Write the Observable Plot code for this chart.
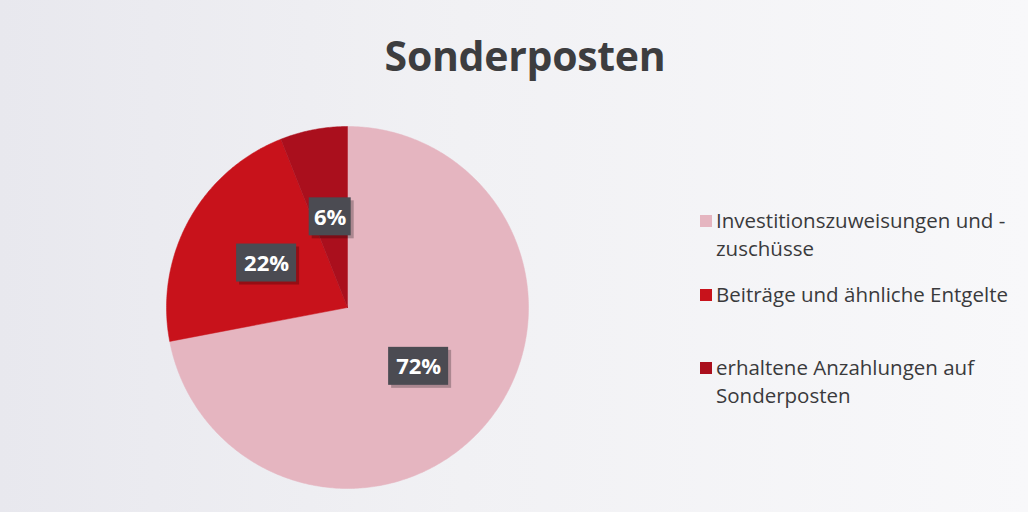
<!DOCTYPE html>
<html>
<head>
<meta charset="utf-8">
<script src="https://cdn.jsdelivr.net/npm/d3@7"></script>
<script src="https://cdn.jsdelivr.net/npm/@observablehq/plot@0.6"></script>
<style>
  html, body { margin: 0; padding: 0; }
  body {
    width: 1028px; height: 512px; overflow: hidden; position: relative;
    background: linear-gradient(90deg, #e8e8ee 0%, #f1f1f4 45%, #f8f8fa 100%);
    font-family: "Open Sans", sans-serif;
  }
  #title {
    position: absolute; left: 0; top: 0; width: 1050px; height: 110px;
    text-align: center; font-weight: 700; font-size: 41px; color: #3d3d3f;
    line-height: 110px; letter-spacing: -0.3px;
  }
  #chart { position: absolute; left: 0; top: 110px; }
  #legend { position: absolute; left: 700px; top: 206px; color: #3a3a3c; font-size: 20.5px; white-space: nowrap; }
  .item { position: relative; padding-left: 16px; line-height: 28px; }
  .sw { position: absolute; left: 0; top: 9px; width: 12px; height: 12px; }
</style>
</head>
<body>
<div id="title">Sonderposten</div>
<div id="chart"></div>
<div id="legend"></div>
<script>
// Data
const categories = ["Investitionszuweisungen und -zuschüsse", "Beiträge und ähnliche Entgelte", "erhaltene Anzahlungen auf Sonderposten"];
const legendLines = [["Investitionszuweisungen und -", "zuschüsse"], ["Beiträge und ähnliche Entgelte"], ["erhaltene Anzahlungen auf", "Sonderposten"]];
const shares = [72, 22, 6];
const colors = ["#e5b5c0", "#c8121b", "#aa0f1d"];

// Pie geometry (angles clockwise from 12 o'clock)
const total = d3.sum(shares);
const slices = [];
let acc = 0;
shares.forEach((v, i) => {
  const a0 = acc / total * 2 * Math.PI;
  acc += v;
  const a1 = acc / total * 2 * Math.PI;
  slices.push({name: categories[i], value: v, a0, a1});
});
const pts = [];
for (const s of slices) {
  pts.push({name: s.name, x: 0, y: 0});
  const n = Math.max(2, Math.ceil((s.a1 - s.a0) / 0.01));
  for (let k = 0; k <= n; k++) {
    const a = s.a0 + (s.a1 - s.a0) * k / n;
    pts.push({name: s.name, x: Math.sin(a), y: -Math.cos(a)});
  }
  pts.push({name: s.name, x: 0, y: 0});
}
const R = 181;
const labelR = 0.51;
const labels = slices.map(s => {
  const a = (s.a0 + s.a1) / 2;
  const txt = s.value + "%";
  const w = (18 * txt.length + 6) / R / 2;
  const h = 38 / R / 2;
  const x = labelR * Math.sin(a), y = -labelR * Math.cos(a);
  return {txt, x, y, x1: x - w, x2: x + w, y1: y - h, y2: y + h};
});

const plot = Plot.plot({
  width: 1028, height: 402, margin: 0,
  style: {background: "transparent", overflow: "visible"},
  x: {domain: [-1, 1], range: [347 - R, 347 + R], axis: null},
  y: {domain: [-1, 1], range: [197 - R, 197 + R], axis: null},
  color: {domain: categories, range: colors},
  marks: [
    Plot.line(pts, {x: "x", y: "y", z: "name", fill: "name", stroke: "name", strokeWidth: 0.5, curve: "linear"}),
    Plot.rect(labels, {x1: "x1", x2: "x2", y1: "y1", y2: "y2", fill: "#000", fillOpacity: 0.25, dx: 3, dy: 3}),
    Plot.rect(labels, {x1: "x1", x2: "x2", y1: "y1", y2: "y2", fill: "#4b4b52"}),
    Plot.text(labels, {x: "x", y: "y", text: "txt", fill: "white", fontSize: 22, fontWeight: 700, fontFamily: "Open Sans", dy: 1})
  ]
});
document.getElementById("chart").appendChild(plot);

const legend = document.getElementById("legend");
const gaps = [0, 18, 45];
categories.forEach((c, i) => {
  const div = document.createElement("div");
  div.className = "item";
  div.style.marginTop = gaps[i] + "px";
  div.innerHTML = `<span class="sw" style="background:${colors[i]}"></span>` + legendLines[i].join("<br>");
  legend.appendChild(div);
});
</script>
</body>
</html>
